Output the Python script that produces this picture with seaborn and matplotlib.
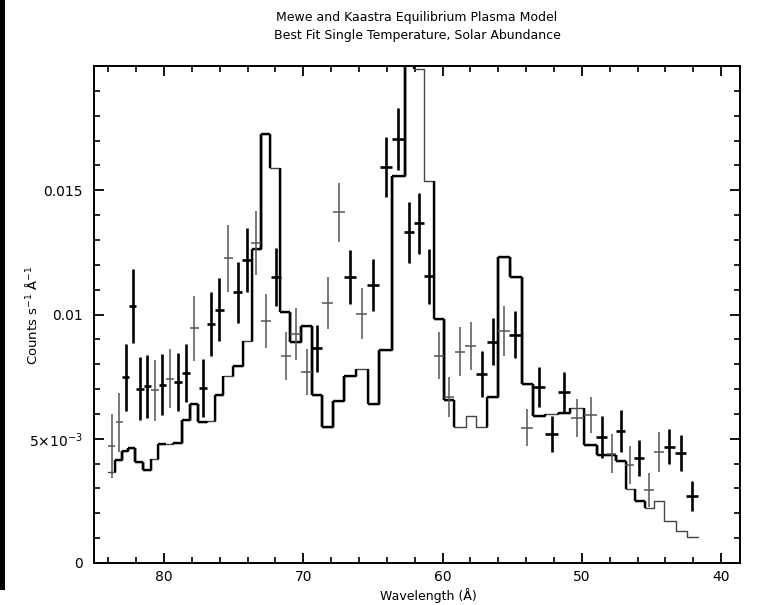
import numpy as np
import pandas as pd
import matplotlib
matplotlib.use("Agg")
import matplotlib.pyplot as plt
import matplotlib.ticker as mticker
from matplotlib.patches import Rectangle
import seaborn as sns

# ---------------- data ----------------
wavelength = [83.76, 83.23, 82.75, 82.25, 81.72, 81.20, 80.65, 80.12, 79.57, 79.02,
              78.42, 77.82, 77.22, 76.65, 76.03, 75.38, 74.71, 74.06, 73.40, 72.68,
              71.98, 71.24, 70.55, 69.76, 69.04, 68.25, 67.44, 66.65, 65.81, 64.97,
              64.08, 63.18, 62.41, 61.69, 60.97, 60.26, 59.54, 58.75, 57.98, 57.19,
              56.40, 55.59, 54.80, 53.96, 53.06, 52.17, 51.28, 50.33, 49.37, 48.58,
              47.86, 47.21, 46.55, 45.88, 45.16, 44.47, 43.73, 42.91, 42.08]
rate = [0.00472, 0.00566, 0.00747, 0.01035, 0.00702, 0.00711, 0.00695, 0.00718, 0.00742, 0.00729,
        0.00765, 0.00944, 0.00704, 0.00961, 0.01019, 0.01227, 0.01090, 0.01220, 0.01288, 0.00974,
        0.01150, 0.00833, 0.00923, 0.00769, 0.00864, 0.01045, 0.01411, 0.01150, 0.01004, 0.01119,
        0.01594, 0.01707, 0.01330, 0.01367, 0.01153, 0.00835, 0.00668, 0.00850, 0.00873, 0.00761,
        0.00891, 0.00934, 0.00918, 0.00545, 0.00708, 0.00519, 0.00688, 0.00583, 0.00596, 0.00508,
        0.00440, 0.00531, 0.00393, 0.00423, 0.00295, 0.00447, 0.00468, 0.00443, 0.00269]
rate_err = [0.00128, 0.00119, 0.00134, 0.00148, 0.00125, 0.00127, 0.00122, 0.00123, 0.00120, 0.00117,
            0.00118, 0.00132, 0.00117, 0.00130, 0.00126, 0.00135, 0.00123, 0.00130, 0.00129, 0.00108,
            0.00117, 0.00098, 0.00105, 0.00093, 0.00094, 0.00104, 0.00120, 0.00109, 0.00101, 0.00104,
            0.00122, 0.00125, 0.00124, 0.00123, 0.00112, 0.00095, 0.00082, 0.00099, 0.00096, 0.00092,
            0.00095, 0.00099, 0.00095, 0.00074, 0.00080, 0.00073, 0.00081, 0.00075, 0.00073, 0.00084,
            0.00079, 0.00083, 0.00076, 0.00073, 0.00069, 0.00079, 0.00070, 0.00073, 0.00059]
# 1 = dark (heavy) spectrum, 0 = light spectrum
data_group = [0, 0, 1, 1, 1, 1, 0, 1, 0, 1,
              1, 0, 1, 1, 1, 0, 1, 1, 0, 0,
              1, 0, 0, 0, 1, 0, 0, 1, 0, 1,
              1, 1, 1, 1, 1, 0, 0, 0, 0, 1,
              1, 0, 1, 0, 1, 1, 1, 0, 0, 1,
              0, 1, 0, 1, 0, 0, 1, 1, 1]

model_edges = [84.02, 83.52, 83.02, 82.58, 82.08, 81.51, 80.93, 80.43, 79.86, 79.35,
               78.71, 78.13, 77.56, 76.91, 76.34, 75.76, 75.05, 74.33, 73.68, 73.04,
               72.39, 71.67, 70.95, 70.20, 69.40, 68.68, 67.85, 67.06, 66.22, 65.38,
               64.54, 63.65, 62.70, 62.05, 61.34, 60.62, 59.90, 59.16, 58.34, 57.60,
               56.83, 56.00, 55.16, 54.32, 53.49, 52.65, 51.74, 50.85, 49.83, 48.91,
               48.22, 47.55, 46.86, 46.19, 45.47, 44.82, 44.10, 43.26, 42.43, 41.64]
model_rate = [0.00366, 0.00414, 0.00450, 0.00462, 0.00407, 0.00373, 0.00418, 0.00478, 0.00478, 0.00484,
              0.00576, 0.00640, 0.00569, 0.00572, 0.00677, 0.00751, 0.00792, 0.00893, 0.01265, 0.01725,
              0.01590, 0.01010, 0.00890, 0.00954, 0.00677, 0.00549, 0.00653, 0.00754, 0.00779, 0.00640,
              0.00856, 0.01556, 0.02150, 0.01986, 0.01536, 0.00981, 0.00657, 0.00549, 0.00592, 0.00546,
              0.00668, 0.01232, 0.01150, 0.00722, 0.00592, 0.00600, 0.00605, 0.00623, 0.00474, 0.00434,
              0.00434, 0.00410, 0.00299, 0.00251, 0.00222, 0.00249, 0.00170, 0.00130, 0.00103]
model_heavy = [0, 1, 1, 1, 1, 1, 0, 1, 0, 1,
               1, 1, 1, 0, 1, 0, 1, 0, 1, 1,
               0, 1, 1, 1, 1, 1, 1, 1, 0, 1,
               1, 1, 1, 0, 0, 1, 1, 0, 0, 0,
               1, 1, 1, 1, 1, 0, 1, 0, 1, 1,
               1, 1, 0, 1, 0, 0, 0, 0, 0]

title_lines = ["Mewe and Kaastra Equilibrium Plasma Model",
               "Best Fit Single Temperature, Solar Abundance"]
x_ticks = [80, 70, 60, 50, 40]
y_ticks = [0, 0.005, 0.01, 0.015]
y_ticklabels = ["0", r"5$\times$10$^{-3}$", "0.01", "0.015"]

# ---------------- figure ----------------
sns.set_style("ticks")
plt.rcParams["font.family"] = ["DejaVu Sans"]
plt.rcParams["mathtext.fontset"] = "dejavusans"
plt.rcParams["text.color"] = "black"

fig = plt.figure(figsize=(7.68, 6.05), dpi=100)
ax = fig.add_axes([94 / 768, 1 - 563 / 605, (740 - 94) / 768, (563 - 66) / 605])

df = pd.DataFrame({"wl": wavelength, "rate": rate, "err": rate_err, "grp": data_group})
df["xerr"] = np.abs(np.gradient(np.array(wavelength))) / 2.0

# model histogram: thin full curve, heavy bins overlaid
edges = np.array(model_edges)
vals = np.array(model_rate)
mdf = pd.DataFrame({"wl": edges, "rate": np.append(vals, vals[-1])})
sns.lineplot(data=mdf, x="wl", y="rate", drawstyle="steps-post", color="#444444",
             linewidth=1.0, ax=ax, estimator=None, sort=False)
for i, h in enumerate(model_heavy):
    if h:
        ax.plot([edges[i], edges[i + 1]], [vals[i], vals[i]], color="black", lw=1.7,
                solid_capstyle="butt")
        if i > 0:
            ax.plot([edges[i], edges[i]], [vals[i - 1], vals[i]], color="black", lw=1.7,
                    solid_capstyle="butt")
        if i < len(vals) - 1:
            ax.plot([edges[i + 1], edges[i + 1]], [vals[i], vals[i + 1]], color="black",
                    lw=1.7, solid_capstyle="butt")

light = df[df.grp == 0]
heavy = df[df.grp == 1]
ax.errorbar(light.wl, light.rate, yerr=light.err, xerr=light.xerr, fmt="none",
            ecolor="#555555", elinewidth=1.1, capsize=0)
ax.errorbar(heavy.wl, heavy.rate, yerr=heavy.err, xerr=heavy.xerr, fmt="none",
            ecolor="black", elinewidth=1.9, capsize=0)

ax.set_xlim(85.03, 38.64)
ax.set_ylim(0, 0.02)
ax.set_xticks(x_ticks)
ax.set_xticklabels([str(t) for t in x_ticks])
ax.xaxis.set_minor_locator(mticker.MultipleLocator(2))
ax.set_yticks(y_ticks)
ax.set_yticklabels(y_ticklabels)
ax.yaxis.set_minor_locator(mticker.MultipleLocator(0.001))
ax.tick_params(which="both", direction="in", top=True, right=True, colors="black",
               labelcolor="black", labelsize=10)
ax.tick_params(which="major", length=7, width=1.3)
ax.tick_params(axis="x", which="major", pad=5)
ax.tick_params(axis="y", which="major", pad=8)
ax.tick_params(which="minor", length=4, width=1.2)
for s in ax.spines.values():
    s.set_linewidth(1.4)
    s.set_color("black")
ax.set_xlabel("")
ax.set_ylabel("")

fig.text(417 / 768, 1 - 18 / 605, title_lines[0], ha="center", va="center", fontsize=9)
fig.text(417 / 768, 1 - 36 / 605, title_lines[1], ha="center", va="center", fontsize=9)
fig.text(428 / 768, 1 - 596 / 605, "Wavelength (Å)", ha="center", va="center", fontsize=9)
fig.text(32 / 768, 1 - 315 / 605, r"Counts s$^{-1}$ Å$^{-1}$", ha="center", va="center",
         rotation=90, fontsize=9.5)

fig.add_artist(Rectangle((0, 1 - 590 / 605), 5 / 768, 590 / 605, transform=fig.transFigure,
                         facecolor="black", edgecolor="none"))

fig.savefig("out.png", dpi=100, facecolor="white")
